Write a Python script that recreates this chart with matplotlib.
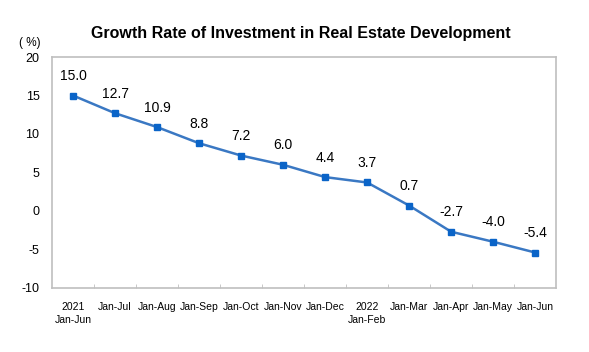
import matplotlib.pyplot as plt

plt.rcParams['font.family'] = ['Liberation Sans', 'DejaVu Sans']

# Data
periods = ['2021\nJan-Jun', 'Jan-Jul', 'Jan-Aug', 'Jan-Sep', 'Jan-Oct', 'Jan-Nov',
           'Jan-Dec', '2022\nJan-Feb', 'Jan-Mar', 'Jan-Apr', 'Jan-May', 'Jan-Jun']
growth = [15.0, 12.7, 10.9, 8.8, 7.2, 6.0, 4.4, 3.7, 0.7, -2.7, -4.0, -5.4]
yticks = [20, 15, 10, 5, 0, -5, -10]

fig = plt.figure(figsize=(5.89, 3.52), dpi=100)
ax = fig.add_axes([0.0883, 0.182, 0.856, 0.656])

x = list(range(len(periods)))
ax.plot(x, growth, color='#3a78c3', linewidth=1.8,
        marker='s', markersize=4.5, markerfacecolor='#0a64c8', markeredgecolor='#0a64c8')

for xi, v in zip(x, growth):
    ax.annotate(f'{v:.1f}', (xi, v), xytext=(0, 9), textcoords='offset points',
                ha='center', va='bottom', fontsize=10)

ax.set_xlim(-0.5, len(periods) - 0.5)
ax.set_ylim(-10, 20)
ax.set_yticks(yticks)
ax.set_yticklabels([str(t) for t in yticks], fontsize=9)
ax.tick_params(axis='y', length=0, pad=9)

# category labels between boundary ticks
ax.set_xticks(x)
ax.set_xticklabels(periods, fontsize=7.5, linespacing=1.35)
ax.tick_params(axis='x', which='major', length=0, pad=10)
ax.set_xticks([i - 0.5 for i in range(1, len(periods))], minor=True)
ax.tick_params(axis='x', which='minor', length=3, direction='in', color='#bfbfbf')

for s in ax.spines.values():
    s.set_color('#bfbfbf')
    s.set_linewidth(1.2)

fig.text(0.511, 0.905, 'Growth Rate of Investment in Real Estate Development',
         ha='center', va='center', fontsize=11.5, fontweight='bold')
fig.text(0.05, 0.877, '( %)', ha='center', va='center', fontsize=8.5)

fig.savefig('out.png', dpi=100)
